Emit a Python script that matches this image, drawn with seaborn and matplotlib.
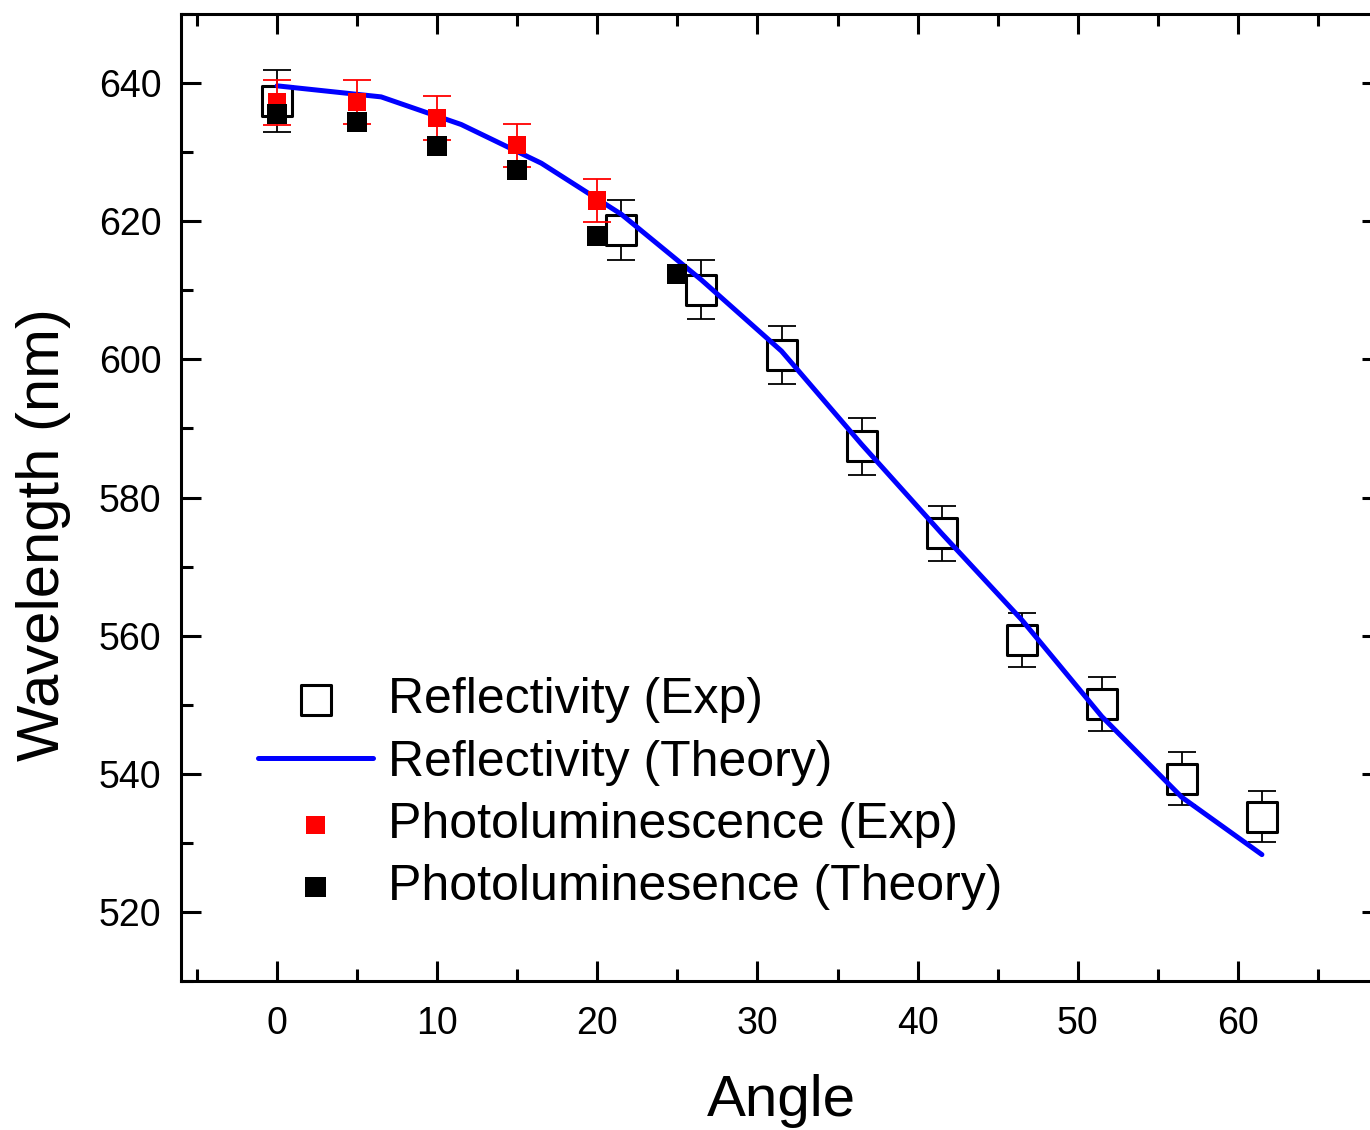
import matplotlib
matplotlib.use("Agg")
import matplotlib.pyplot as plt
import seaborn as sns
import pandas as pd
from matplotlib.ticker import MultipleLocator

# Reflectivity, experiment (open squares with error bars)
refl_angle = [0, 21.5, 26.5, 31.5, 36.5, 41.5, 46.5, 51.5, 56.5, 61.5]
refl_wl = [637.4, 618.7, 610.1, 600.6, 587.4, 574.8, 559.4, 550.1, 539.3, 533.8]
refl_err = [4.5, 4.3, 4.3, 4.2, 4.1, 4.0, 3.9, 3.9, 3.8, 3.7]

# Reflectivity, theory (blue line)
theory_angle = [0, 6.5, 11.5, 16.5, 21.5, 26.5, 31.5, 36.5, 41.5, 46.5, 51.5, 56.5, 61.5]
theory_wl = [639.6, 638.0, 634.0, 628.4, 621.0, 611.5, 601.2, 587.7, 574.8, 562.3, 548.3, 536.6, 528.3]

# Photoluminescence, experiment (red squares with error bars)
pl_angle = [0, 5, 10, 15, 20]
pl_wl = [637.2, 637.3, 635.0, 631.0, 623.0]
pl_err = [3.2, 3.2, 3.2, 3.1, 3.1]

# Photoluminescence, theory (black squares)
plt_angle = [0, 5, 10, 15, 20, 25]
plt_wl = [635.5, 634.4, 630.9, 627.4, 617.8, 612.3]

refl = pd.DataFrame({"angle": refl_angle, "wl": refl_wl})
theory = pd.DataFrame({"angle": theory_angle, "wl": theory_wl})
pl = pd.DataFrame({"angle": pl_angle, "wl": pl_wl})
pl_th = pd.DataFrame({"angle": plt_angle, "wl": plt_wl})

sns.set_style("ticks")
plt.rcParams["font.family"] = ["Liberation Sans", "DejaVu Sans"]
plt.rcParams["text.color"] = "black"
plt.rcParams["axes.labelcolor"] = "black"
plt.rcParams["xtick.labelcolor"] = "black"
plt.rcParams["ytick.labelcolor"] = "black"

fig = plt.figure(figsize=(13.7, 11.3), dpi=100)
ax = fig.add_axes([181 / 1370, 1 - 981 / 1130, (1382 - 181) / 1370, (981 - 14) / 1130])

# reflectivity experiment
ax.errorbar(refl_angle, refl_wl, yerr=refl_err, fmt="none", ecolor="black",
            elinewidth=1.3, capsize=10, capthick=1.3, zorder=2)
sns.scatterplot(data=refl, x="angle", y="wl", marker="s", s=470,
                facecolor="white", edgecolor="black", linewidth=2.2,
                label="Reflectivity (Exp)", ax=ax, zorder=3)

# reflectivity theory
sns.lineplot(data=theory, x="angle", y="wl", color="#0000FF", linewidth=3.6,
             label="Reflectivity (Theory)", ax=ax, zorder=4)

# photoluminescence experiment
ax.errorbar(pl_angle, pl_wl, yerr=pl_err, fmt="none", ecolor="#FF0000",
            elinewidth=1.3, capsize=10, capthick=1.3, zorder=5)
sns.scatterplot(data=pl, x="angle", y="wl", marker="s", s=170,
                color="#FF0000", edgecolor="none",
                label="Photoluminescence (Exp)", ax=ax, zorder=5)

# photoluminescence theory
sns.scatterplot(data=pl_th, x="angle", y="wl", marker="s", s=210,
                color="black", edgecolor="none",
                label="Photoluminesence (Theory)", ax=ax, zorder=6)

ax.set_xlim(-6, 69)
ax.set_ylim(510, 650)
ax.xaxis.set_major_locator(MultipleLocator(10))
ax.xaxis.set_minor_locator(MultipleLocator(5))
ax.yaxis.set_major_locator(MultipleLocator(20))
ax.yaxis.set_minor_locator(MultipleLocator(10))
ax.tick_params(which="both", direction="in", top=True, right=True, width=2.2,
               labelsize=27, color="black")
ax.tick_params(which="major", length=14.4)
ax.tick_params(axis="x", which="major", pad=18)
ax.tick_params(axis="y", which="major", pad=14)
ax.tick_params(which="minor", length=8.6)
for sp in ax.spines.values():
    sp.set_linewidth(2.2)
    sp.set_color("black")

ax.set_xlabel("Angle", fontsize=42, labelpad=23)
ax.set_ylabel("Wavelength (nm)", fontsize=43)
ax.yaxis.set_label_coords((71 - 181) / 1201, 1 - (535 - 14) / 967)

ax.legend(loc="upper left", bbox_to_anchor=(258 / 1370, 1 - 677 / 1130),
          bbox_transform=fig.transFigure, frameon=False, fontsize=36,
          handlelength=2.3, handletextpad=0.3, labelspacing=0.33,
          borderpad=0, borderaxespad=0)

fig.savefig("out.png", dpi=100)
